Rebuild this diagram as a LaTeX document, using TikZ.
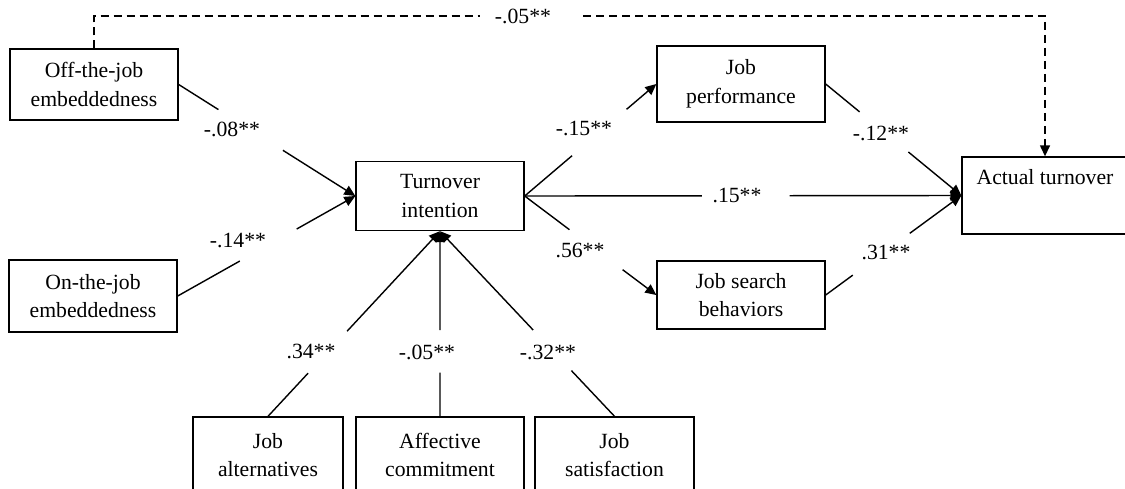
\documentclass[tikz,border=0pt]{standalone}
\usepackage{fontspec}
\setmainfont{Liberation Serif}
\usepackage{tikz}
\usetikzlibrary{arrows.meta,calc}

\begin{document}
\begin{tikzpicture}[
  x=0.02cm, y=-0.02cm,
  every node/.style={font=\fontsize{12.35}{16.2}\selectfont},
  box/.style={draw, line width=0.8pt, align=center, inner sep=0pt, minimum width=3.36cm},
  lbl/.style={inner sep=0pt},
  link/.style={line width=0.8pt},
  arrow/.style={line width=0.8pt, -{Triangle[length=0.22cm, width=0.2cm]}},
  dashline/.style={line width=0.8pt, dash pattern=on 0.16cm off 0.1cm}
]
\useasboundingbox (0,0) rectangle (1125,488);

% boxes
\node[box, minimum height=1.42cm] (off) at (94,84.5) {Off-the-job\\embeddedness};
\node[box, minimum height=1.44cm] (on) at (93,296) {On-the-job\\embeddedness};
\node[box, minimum height=1.38cm] (turn) at (440,196) {Turnover\\intention};
\node[box, minimum height=1.52cm] (perf) at (741,84) {Job\\performance};
\node[box, minimum height=1.36cm] (search) at (741,295) {Job search\\behaviors};
\node[box, minimum height=1.54cm, minimum width=3.32cm] (actual) at (1045,195.5) {Actual turnover\\ \strut};
\node[box, minimum height=1.52cm, minimum width=3.0cm] (alt) at (268,455) {Job\\alternatives};
\node[box, minimum height=1.52cm] (aff) at (440,455) {Affective\\commitment};
\node[box, minimum height=1.52cm, minimum width=3.18cm] (sat) at (614.5,455) {Job\\satisfaction};

% path coefficients
\node[lbl] (loff) at (232,129) {-.08**};
\node[lbl] (lon) at (238,240) {-.14**};
\node[lbl] (lalt) at (311,351) {.34**};
\node[lbl] (laff) at (427,352) {-.05**};
\node[lbl] (lsat) at (548,352) {-.32**};
\node[lbl] (lperf) at (584,128) {-.15**};
\node[lbl] (lsearch) at (580,250) {.56**};
\node[lbl] (lact) at (737,195) {.15**};
\node[lbl] (lpa) at (881,133) {-.12**};
\node[lbl] (lsa) at (886,252) {.31**};
\node[lbl] (ldash) at (523,16) {-.05**};

% antecedents -> turnover intention
\draw[link] (off.east) -- ($(off.east)!.225!(turn.west)$);
\draw[arrow] ($(off.east)!.59!(turn.west)$) -- (turn.west);
\draw[link] (on.east) -- ($(on.east)!.35!(turn.west)$);
\draw[arrow] ($(on.east)!.67!(turn.west)$) -- (turn.west);
\draw[link] (alt.north) -- ($(alt.north)!.233!(turn.south)$);
\draw[arrow] ($(alt.north)!.46!(turn.south)$) -- (turn.south);
\draw[link] (aff.north) -- ($(aff.north)!.236!(turn.south)$);
\draw[arrow] ($(aff.north)!.466!(turn.south)$) -- (turn.south);
\draw[link] (sat.north) -- ($(sat.north)!.247!(turn.south)$);
\draw[arrow] ($(sat.north)!.466!(turn.south)$) -- (turn.south);

% turnover intention -> outcomes
\draw[link] (turn.east) -- ($(turn.east)!.36!(perf.west)$);
\draw[arrow] ($(turn.east)!.774!(perf.west)$) -- (perf.west);
\draw[link] (turn.east) -- ($(turn.east)!.34!(search.west)$);
\draw[arrow] ($(turn.east)!.744!(search.west)$) -- (search.west);
\draw[link] (turn.east) -- ($(turn.east)!.406!(actual.west)$);
\draw[arrow] ($(turn.east)!.607!(actual.west)$) -- (actual.west);
\draw[link] (perf.east) -- ($(perf.east)!.25!(actual.west)$);
\draw[arrow] ($(perf.east)!.61!(actual.west)$) -- (actual.west);
\draw[link] (search.east) -- ($(search.east)!.2!(actual.west)$);
\draw[arrow] ($(search.east)!.62!(actual.west)$) -- (actual.west);

% direct path, dashed
\coordinate (dl) at (480,16);
\coordinate (dr) at (583,16);
\draw[dashline] (off.north) |- (dl);
\draw[dashline, arrow] (dr) -| (actual.north);
\end{tikzpicture}
\end{document}
